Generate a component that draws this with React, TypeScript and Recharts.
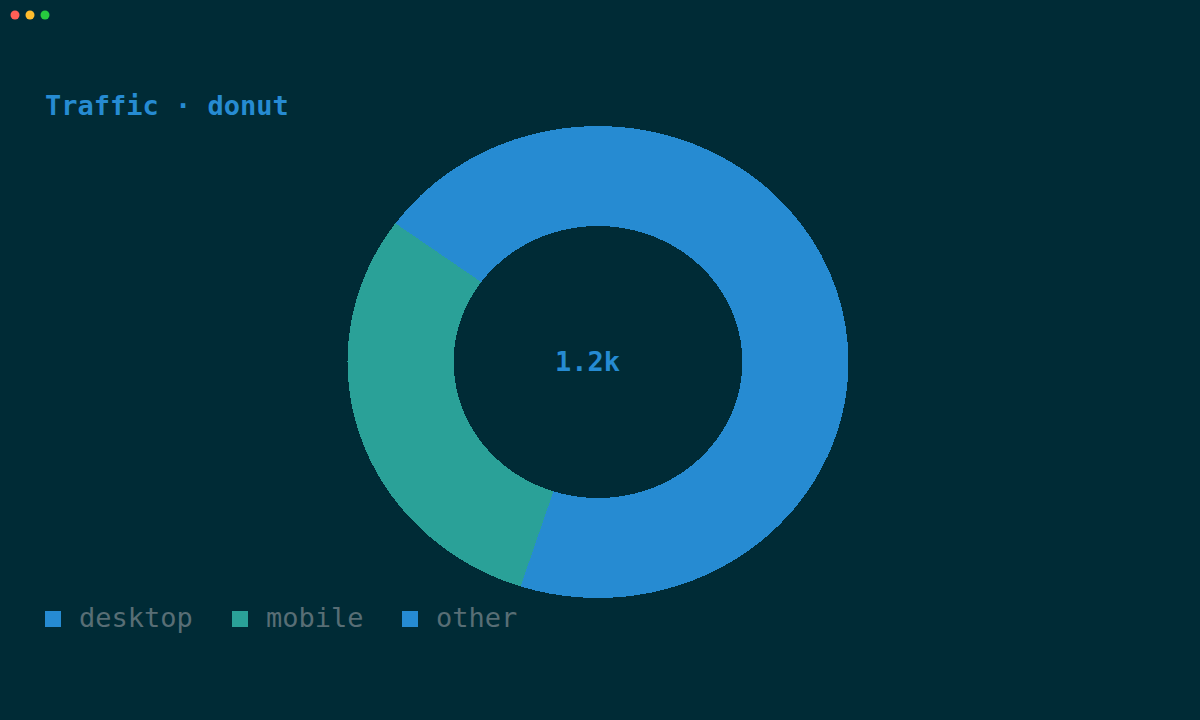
import React from "react";
import { PieChart, Pie, Cell } from "recharts";

const categories = ["desktop", "mobile", "other"];
const values = [480, 360, 360];
const colors = ["#268bd2", "#2aa198", "#268bd2"];
const title = "Traffic · donut";
const centerLabel = "1.2k";

const data = categories.map((name, i) => ({ name, value: values[i] }));

const FONT = "'DejaVu Sans Mono', monospace";
const BG = "#002b36";

export default function App() {
  const legendX = [45, 232, 402];
  return (
    <div
      style={{
        position: "fixed",
        left: 0,
        top: 0,
        width: 1200,
        height: 720,
        background: BG,
        overflow: "hidden",
      }}
    >
      <div
        style={{
          position: "absolute",
          left: 347.5,
          top: 112,
          width: 500,
          height: 500,
          transform: "scaleX(1.0614)",
          transformOrigin: "250px 250px",
        }}
      >
        <PieChart width={500} height={500} margin={{ top: 0, right: 0, bottom: 0, left: 0 }}>
          <Pie
            data={data}
            dataKey="value"
            nameKey="name"
            cx={250}
            cy={250}
            innerRadius={136}
            outerRadius={236}
            startAngle={0}
            endAngle={360}
            stroke="none"
            shapeRendering="crispEdges"
            isAnimationActive={false}
          >
            {data.map((d, i) => (
              <Cell key={d.name} fill={colors[i]} stroke="none" />
            ))}
          </Pie>
        </PieChart>
      </div>
      <svg
        width={1200}
        height={720}
        style={{ position: "absolute", left: 0, top: 0, pointerEvents: "none" }}
      >
        <circle cx={15} cy={15} r={4.5} fill="#ff5f56" />
        <circle cx={30} cy={15} r={4.5} fill="#ffbd2e" />
        <circle cx={45} cy={15} r={4.5} fill="#27c93f" />
        <text
          x={45}
          y={115}
          fill="#268bd2"
          fontFamily={FONT}
          fontWeight="bold"
          fontSize={27}
        >
          {title}
        </text>
        <text
          x={587.5}
          y={371}
          textAnchor="middle"
          fill="#268bd2"
          fontFamily={FONT}
          fontWeight="bold"
          fontSize={27}
        >
          {centerLabel}
        </text>
        {categories.map((c, i) => (
          <g key={c}>
            <rect x={legendX[i]} y={611} width={16} height={16} fill={colors[i]} />
            <text
              x={legendX[i] + 34}
              y={627}
              fill="#586e75"
              fontFamily={FONT}
              fontSize={27}
            >
              {c}
            </text>
          </g>
        ))}
      </svg>
    </div>
  );
}
